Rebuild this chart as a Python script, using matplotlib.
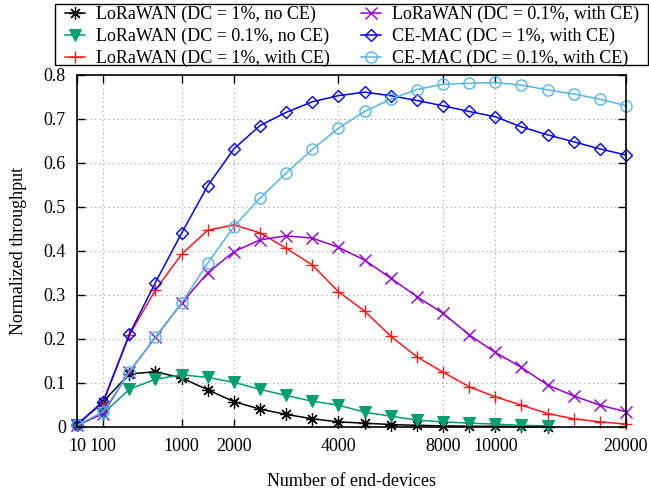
import numpy as np
import matplotlib
matplotlib.use('Agg')
import matplotlib.pyplot as plt
from matplotlib.patches import Rectangle
from matplotlib.ticker import FuncFormatter

plt.rcParams['font.family'] = ['Liberation Serif', 'DejaVu Serif']
plt.rcParams['font.size'] = 13

# number of end-devices (x values of the simulation points)
devices = [10, 100, 400, 700, 1000, 1500, 2000, 2500, 3000, 3500, 4000,
           5000, 6000, 7000, 8000, 9000, 10000, 12000, 14000, 16000, 18000, 20000]
xtick_vals = [10, 100, 1000, 2000, 4000, 8000, 10000, 20000]

lora_1_noce = [0.004, 0.057, 0.120, 0.125, 0.111, 0.084, 0.057, 0.040, 0.028, 0.018,
               0.011, 0.008, 0.005, 0.003, 0.002, 0.001, 0.001, 0.0005, 0.0]
lora_01_noce = [0.003, 0.030, 0.085, 0.108, 0.118, 0.112, 0.101, 0.085, 0.071, 0.058,
                0.049, 0.033, 0.024, 0.015, 0.011, 0.008, 0.006, 0.003, 0.002]
lora_1_ce = [0.005, 0.055, 0.208, 0.311, 0.392, 0.447, 0.459, 0.441, 0.406, 0.368, 0.307,
             0.263, 0.206, 0.159, 0.124, 0.091, 0.068, 0.049, 0.030, 0.018, 0.011, 0.006]
lora_01_ce = [0.003, 0.030, 0.125, 0.203, 0.281, 0.350, 0.398, 0.425, 0.434, 0.429, 0.408,
              0.379, 0.338, 0.296, 0.258, 0.209, 0.169, 0.135, 0.095, 0.070, 0.049, 0.034]
cemac_1 = [0.005, 0.057, 0.210, 0.328, 0.440, 0.548, 0.632, 0.685, 0.715, 0.739, 0.753,
           0.761, 0.753, 0.742, 0.730, 0.717, 0.705, 0.682, 0.664, 0.648, 0.632, 0.618]
cemac_01 = [0.003, 0.034, 0.125, 0.203, 0.281, 0.372, 0.455, 0.520, 0.577, 0.631, 0.679,
            0.717, 0.745, 0.767, 0.779, 0.781, 0.783, 0.777, 0.766, 0.757, 0.745, 0.730]

idx = np.arange(len(devices))


def fwd(v):
    return np.interp(v, devices, idx)


def inv(v):
    return np.interp(v, idx, devices)


fig = plt.figure(figsize=(6.49, 4.93), dpi=100)
W, H = 649, 493
ax = fig.add_axes([77 / W, 1 - 426.7 / H, (626 - 77) / W, (426.7 - 75) / H])

series = [
    (lora_1_noce, 'LoRaWAN (DC = 1%, no CE)', 'black',
     dict(marker=(8, 2, 0), markersize=9, markeredgewidth=0.9)),
    (lora_01_noce, 'LoRaWAN (DC = 0.1%, no CE)', '#009e73',
     dict(marker='v', markersize=8, markeredgewidth=0.8)),
    (lora_1_ce, 'LoRaWAN (DC = 1%, with CE)', '#ff1a1a',
     dict(marker='+', markersize=9, markeredgewidth=1.0)),
    (lora_01_ce, 'LoRaWAN (DC = 0.1%, with CE)', '#9400d3',
     dict(marker='x', markersize=8, markeredgewidth=1.0)),
    (cemac_1, 'CE-MAC (DC = 1%, with CE)', '#0000ff',
     dict(marker='D', markersize=6, markeredgewidth=1.0, markerfacecolor='none')),
    (cemac_01, 'CE-MAC (DC = 0.1%, with CE)', '#56b4e9',
     dict(marker='o', markersize=8, markeredgewidth=1.0, markerfacecolor='none')),
]

handles = []
for vals, label, color, mk in series:
    h, = ax.plot(devices[:len(vals)], vals, color=color, lw=1.1, label=label,
                 clip_on=False, **mk)
    handles.append(h)

ax.set_xscale('function', functions=(fwd, inv))
ax.set_xlim(10, 20000)
ax.set_ylim(0, 0.8)
ax.set_xticks(xtick_vals)
ax.set_xticklabels([str(v) for v in xtick_vals])
ax.set_yticks(np.arange(0, 0.81, 0.1))
ax.yaxis.set_major_formatter(FuncFormatter(lambda v, p: '%g' % round(v, 2)))
ax.minorticks_off()

ax.grid(True, color='0.6', linestyle=(0, (1, 3)), lw=0.8)
ax.tick_params(direction='in', length=6, width=1, top=True, right=True, pad=8)
for s in ax.spines.values():
    s.set_linewidth(1.2)

ax.set_xlabel('Number of end-devices', labelpad=13)
ax.set_ylabel('Normalized throughput', labelpad=12)

# legend in two columns, framed by a separate box
leg = fig.legend(handles=handles, ncol=2, loc='upper left', mode='expand',
                 bbox_to_anchor=(65 / W, 1 - 6 / H - 0.01, (639 - 65) / W, 0.01),
                 frameon=False, borderpad=0, borderaxespad=0, handlelength=1.1,
                 handletextpad=0.6, labelspacing=0.25)
fig.patches.append(Rectangle((55 / W, 1 - 65 / H), (648 - 55) / W, (65 - 4) / H,
                             transform=fig.transFigure, fill=False,
                             edgecolor='black', lw=1.0))

fig.savefig('out.png', dpi=100)
